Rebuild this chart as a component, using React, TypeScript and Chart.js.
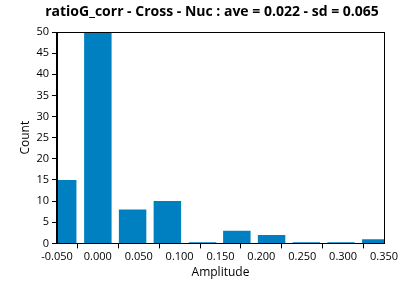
import React, { useEffect, useRef } from "react";
import { Chart, registerables } from "chart.js";

Chart.register(...registerables);

const binCenters = [-0.043, 0.0, 0.0425, 0.085, 0.128, 0.17, 0.2125, 0.255, 0.2975, 0.34];
const counts = [15, 50, 8, 10, 0.3, 3, 2, 0.3, 0.3, 1];
const titleText = "ratioG_corr - Cross - Nuc : ave = 0.022 - sd = 0.065";
const xTitle = "Amplitude";
const yTitle = "Count";

const FONT = "'Open Sans', 'Noto Sans', sans-serif";

const boxPlugin = {
  id: "boxBorder",
  afterDatasetsDraw(chart: any) {
    const { ctx, chartArea } = chart;
    ctx.save();
    ctx.strokeStyle = "#000";
    ctx.lineWidth = 1;
    ctx.strokeRect(
      Math.round(chartArea.left) + 0.5,
      Math.round(chartArea.top) + 0.5,
      Math.round(chartArea.right - chartArea.left),
      Math.round(chartArea.bottom - chartArea.top)
    );
    ctx.restore();
  },
};

const titlePlugin = {
  id: "customTitle",
  afterDraw(chart: any) {
    const { ctx } = chart;
    ctx.save();
    ctx.fillStyle = "#000";
    ctx.font = `bold 14px ${FONT}`;
    ctx.textAlign = "center";
    ctx.textBaseline = "middle";
    ctx.fillText(titleText, 212, 12);
    ctx.restore();
  },
};

export default function App() {
  const ref = useRef<HTMLCanvasElement | null>(null);
  useEffect(() => {
    if (!ref.current) return;
    const chart = new Chart(ref.current, {
      type: "bar",
      data: {
        datasets: [
          {
            data: binCenters.map((x, i) => ({ x, y: counts[i] })),
            backgroundColor: "#0080c0",
            borderWidth: 0,
            barPercentage: 1,
            categoryPercentage: 0.8,
          },
        ],
      },
      options: {
        animation: false,
        responsive: false,
        maintainAspectRatio: false,
        layout: { padding: { left: 8, right: 24, top: 32, bottom: 7 } },
        plugins: {
          legend: { display: false },
          tooltip: { enabled: false },
          title: { display: false },
        },
        scales: {
          x: {
            type: "linear",
            min: -0.05,
            max: 0.35,
            offset: false,
            border: { display: true, color: "#000" },
            grid: { display: true, drawOnChartArea: false, tickLength: 5, color: "#000" },
            ticks: {
              stepSize: 0.05,
              color: "#000",
              font: { family: FONT, size: 11 },
              padding: 2,
              maxRotation: 0,
              callback: (v: any) => (Math.abs(v) < 1e-9 ? 0 : Number(v)).toFixed(3),
            },
            title: {
              display: true,
              text: xTitle,
              color: "#000",
              font: { family: FONT, size: 12 },
              padding: { top: 0, bottom: 0 },
            },
          },
          y: {
            min: 0,
            max: 50,
            border: { display: true, color: "#000" },
            grid: { display: true, drawOnChartArea: false, tickLength: 5, color: "#000" },
            ticks: {
              stepSize: 5,
              color: "#000",
              font: { family: FONT, size: 11 },
              padding: 3,
            },
            title: {
              display: true,
              text: yTitle,
              color: "#000",
              font: { family: FONT, size: 12 },
              padding: { top: 10, bottom: 1 },
            },
          },
        },
      },
      plugins: [boxPlugin, titlePlugin],
    });
    return () => chart.destroy();
  }, []);
  return (
    <div style={{ position: "absolute", left: 0, top: 0, width: 408, height: 287 }}>
      <canvas ref={ref} width={408} height={287} style={{ width: 408, height: 287 }} />
    </div>
  );
}
